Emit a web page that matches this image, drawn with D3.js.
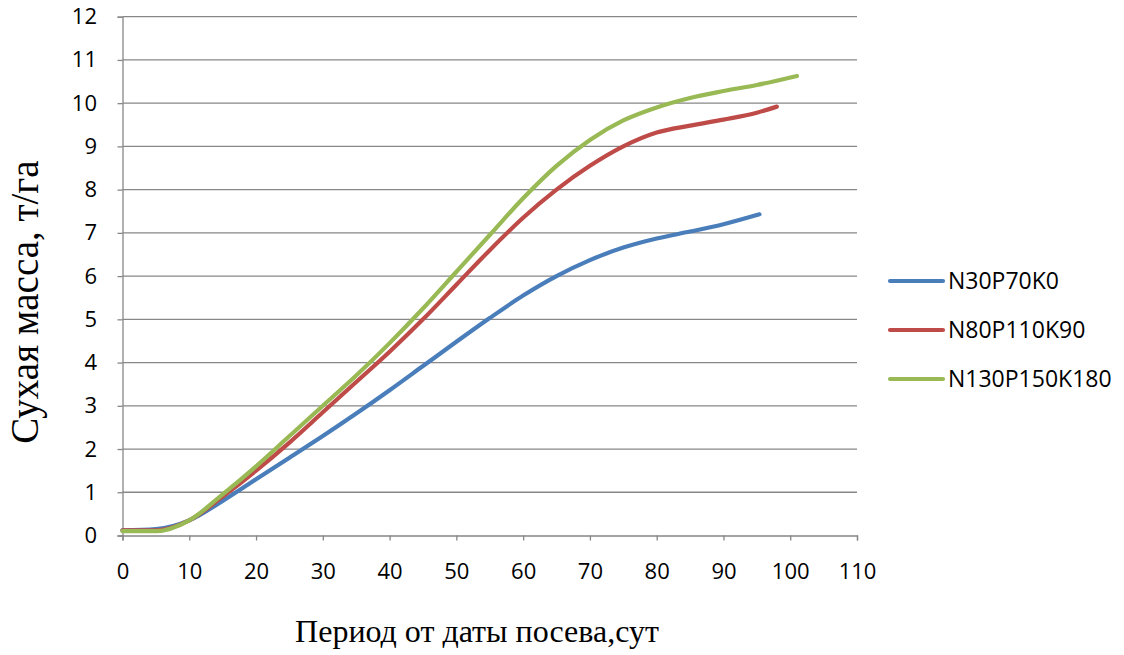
<!DOCTYPE html>
<html><head><meta charset="utf-8">
<script src="https://cdn.jsdelivr.net/npm/d3@7"></script>
<style>body{margin:0;background:#fff}</style>
</head><body>
<svg id="c" width="1124" height="655"></svg>
<script>
const seriesNames = ["N30P70K0", "N80P110K90", "N130P150K180"];
const seriesColors = ["#4A7EBB", "#BE4B48", "#98B954"];
const blueX = [0, 5, 10, 15, 20, 25, 30, 35, 40, 45, 50, 55, 60, 65, 70, 75, 80, 85, 90, 95.4];
const blueY = [0.12, 0.15, 0.35, 0.8, 1.3, 1.8, 2.3, 2.82, 3.36, 3.92, 4.48, 5.03, 5.55, 6.0, 6.37, 6.66, 6.87, 7.03, 7.2, 7.43];
const redX = [0, 5, 10, 15, 20, 25, 30, 35, 40, 45, 50, 55, 60, 65, 70, 75, 80, 85, 90, 95, 98];
const redY = [0.12, 0.12, 0.35, 0.9, 1.5, 2.15, 2.85, 3.55, 4.25, 5.0, 5.8, 6.6, 7.35, 8.0, 8.55, 9.0, 9.32, 9.48, 9.62, 9.78, 9.92];
const greenX = [0, 5, 10, 15, 20, 25, 30, 35, 40, 45, 50, 55, 60, 65, 70, 75, 80, 85, 90, 95, 101];
const greenY = [0.1, 0.1, 0.35, 0.95, 1.6, 2.3, 3.0, 3.7, 4.45, 5.25, 6.1, 6.95, 7.8, 8.55, 9.15, 9.6, 9.9, 10.12, 10.28, 10.42, 10.63];
const xTicks = [0, 10, 20, 30, 40, 50, 60, 70, 80, 90, 100, 110];
const yTicks = [0, 1, 2, 3, 4, 5, 6, 7, 8, 9, 10, 11, 12];
const xTitle = "Период от даты посева,сут";
const yTitle = "Сухая масса, т/га";

const svg = d3.select("#c");
const x = d3.scaleLinear().domain([0, 110]).range([122.5, 857]);
const y = d3.scaleLinear().domain([0, 12]).range([535.5, 16.7]);
const grid = "#878787";

// gridlines
svg.append("g").selectAll("line").data(yTicks.filter(d => d > 0)).join("line")
  .attr("x1", x(0)).attr("x2", x(110))
  .attr("y1", d => y(d)).attr("y2", d => y(d))
  .attr("stroke", grid).attr("stroke-width", 1.3);

// y axis
const ya = svg.append("g").attr("transform", `translate(${x(0)},0)`)
  .call(d3.axisLeft(y).tickValues(yTicks).tickSize(5).tickPadding(20.5).tickFormat(d3.format("d")));
ya.select(".domain").attr("stroke", grid).attr("stroke-width", 1.3);
ya.selectAll(".tick line").attr("stroke", grid).attr("stroke-width", 1.3);
ya.selectAll("text").attr("font-family", "Open Sans, sans-serif").attr("font-size", 22).attr("fill", "#000");

// x axis
const xa = svg.append("g").attr("transform", `translate(0,${y(0)})`)
  .call(d3.axisBottom(x).tickValues(xTicks).tickSize(5).tickPadding(23).tickFormat(d3.format("d")));
xa.select(".domain").attr("stroke", grid).attr("stroke-width", 1.3);
xa.selectAll(".tick line").attr("stroke", grid).attr("stroke-width", 1.3);
xa.selectAll("text").attr("font-family", "Open Sans, sans-serif").attr("font-size", 22).attr("fill", "#000");

// lines
const data = [d3.zip(blueX, blueY), d3.zip(redX, redY), d3.zip(greenX, greenY)];
const line = d3.line().x(d => x(d[0])).y(d => y(d[1])).curve(d3.curveMonotoneX);
svg.append("g").selectAll("path").data(data).join("path")
  .attr("d", line).attr("fill", "none")
  .attr("stroke", (d, i) => seriesColors[i]).attr("stroke-width", 4.2)
  .attr("stroke-linecap", "round").attr("stroke-linejoin", "round");

// legend
const leg = svg.append("g").selectAll("g").data(seriesNames).join("g")
  .attr("transform", (d, i) => `translate(890,${281 + i * 49})`);
leg.append("line").attr("x1", 0).attr("x2", 53).attr("y1", 0).attr("y2", 0)
  .attr("stroke", (d, i) => seriesColors[i]).attr("stroke-width", 4.2).attr("stroke-linecap", "round");
leg.append("text").attr("x", 58).attr("y", 0).attr("dy", "0.36em")
  .attr("font-family", "Open Sans, sans-serif").attr("font-size", 23).attr("fill", "#000")
  .text(d => d);

// titles
svg.append("text").attr("x", 477).attr("y", 642).attr("text-anchor", "middle")
  .attr("font-family", "Liberation Serif, serif").attr("font-size", 32).attr("fill", "#000").text(xTitle);
svg.append("text").attr("transform", "translate(38,302) rotate(-90)").attr("text-anchor", "middle")
  .attr("font-family", "Liberation Serif, serif").attr("font-size", 39).attr("fill", "#000").text(yTitle);
</script>
</body></html>
